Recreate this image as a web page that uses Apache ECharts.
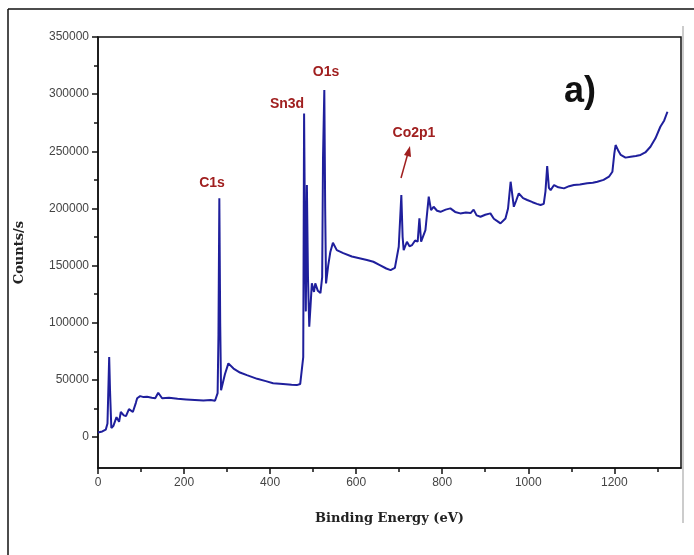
<!DOCTYPE html>
<html>
<head>
<meta charset="utf-8">
<script src="https://cdn.jsdelivr.net/npm/echarts@6/dist/echarts.min.js"></script>
<style>
  html, body { margin: 0; padding: 0; background: #fff; }
  #chart { width: 694px; height: 555px; }
</style>
</head>
<body>
<div id="chart"></div>
<script>
// XPS survey spectrum, binding energy (eV) vs counts/s
const energy = [
  0, 10, 18, 22, 26, 28, 31, 36, 43, 49, 53, 60, 65, 72, 81, 88, 91, 98, 106, 114,
  125, 133, 140, 149, 165, 185, 205, 225, 245, 262, 272, 278, 280, 282, 284, 286, 290, 295, 303, 315,
  330, 346, 370, 390, 407, 430, 450, 462, 470, 474, 477, 479, 481, 483, 485.5, 488, 491, 494, 497, 502,
  505, 511, 517, 521, 523, 526, 528, 530, 535, 540, 546, 555, 570, 590, 610, 625, 640, 655, 670, 680,
  690, 699, 705, 708, 710.5, 718, 724, 730, 737, 743, 747, 751, 756, 761, 768.7, 774, 780, 788, 796, 808,
  819, 830, 842, 855, 866, 873, 880, 889, 900, 912, 920, 928, 935.5, 947, 953, 959, 966.5, 972, 978, 988,
  997.6, 1010, 1020, 1028.6, 1036, 1040, 1044, 1048, 1052, 1060, 1070, 1083, 1095, 1106, 1120, 1137, 1150, 1160.6, 1175, 1187.6,
  1195.5, 1200, 1203, 1210, 1215, 1226, 1238, 1250, 1261, 1272, 1284, 1295.6, 1307, 1316, 1323.5
];
const counts = [
  4000, 5000, 6500, 12000, 70000, 40000, 8000, 10000, 17500, 13400, 22000, 19000, 18400, 24500, 22000, 30000, 34000, 35900, 35000, 35300,
  34500, 34100, 38800, 34000, 34500, 33500, 33000, 32500, 32000, 32500, 31800, 38500, 90000, 208900, 100000, 41000, 40000, 55000, 64500, 60000,
  56500, 54200, 51000, 49000, 47200, 46500, 45800, 45500, 46500, 48000, 70000, 283000, 180000, 110000, 220500, 140000, 96500, 115000, 134500, 127000,
  134500, 128000, 126000, 140000, 245000, 303600, 200000, 134500, 150000, 162000, 170000, 163600, 161000, 158000, 156300, 155000, 153400, 150500, 147500, 146100,
  148000, 166500, 211750, 175000, 163600, 170900, 167000, 168000, 172000, 171000, 191300, 170900, 176000, 181100, 210300, 198600, 201500, 198000, 197100, 199000,
  200100, 197000, 195700, 196500, 196000, 199000, 194000, 192800, 194500, 195700, 191000, 189000, 187000, 191300, 200000, 223400, 201500, 207000, 213200, 209000,
  207400, 205500, 204000, 203000, 204000, 215000, 237100, 218000, 216100, 220500, 218500, 217600, 219500, 220500, 221000, 222000, 222500, 223400, 225000, 227800,
  232100, 248000, 255500, 250000, 246800, 244500, 245300, 246000, 246800, 249000, 254000, 261400, 271500, 277000, 284600
];

const xMajorTicks = [0, 200, 400, 600, 800, 1000, 1200];
const xMinorTicks = [100, 300, 500, 700, 900, 1100, 1300];
const yMajorTicks = [0, 50000, 100000, 150000, 200000, 250000, 300000, 350000];
const yMinorTicks = [25000, 75000, 125000, 175000, 225000, 275000, 325000];

const xRange = [0, 1355];
const yRange = [-27000, 350000];

const peakLabels = [
  { text: "C1s", x: 212, y: 183 },
  { text: "Sn3d", x: 287, y: 104 },
  { text: "O1s", x: 326, y: 72 },
  { text: "Co2p1", x: 414, y: 133 }
];

const chart = echarts.init(document.getElementById("chart"));

const tickLabelStyle = {
  color: "#444", fontSize: 12, fontFamily: "Liberation Sans, Arial, sans-serif",
  formatter: (v) => String(v)
};
const axisLineStyle = { color: "#111", width: 1.5 };

const option = {
  backgroundColor: "#fff",
  animation: false,
  grid: {
    left: 98, right: 13, top: 37, bottom: 87,
    show: true, borderColor: "#111", borderWidth: 1.5, backgroundColor: "transparent"
  },
  xAxis: [
    {
      type: "value", min: xRange[0], max: xRange[1], position: "bottom",
      axisLine: { show: true, onZero: false, lineStyle: axisLineStyle },
      axisTick: { show: true, inside: false, length: 6, lineStyle: axisLineStyle, customValues: xMajorTicks },
      axisLabel: { ...tickLabelStyle, margin: 9, customValues: xMajorTicks },
      splitLine: { show: false },
      name: "Binding Energy (eV)", nameLocation: "middle", nameGap: 44,
      nameTextStyle: { color: "#222", fontSize: 13, fontWeight: "bold", fontFamily: "DejaVu Serif, serif" }
    },
    {
      type: "value", min: xRange[0], max: xRange[1], position: "bottom",
      axisLine: { show: false, onZero: false },
      axisTick: { show: true, inside: false, length: 4, lineStyle: axisLineStyle, customValues: xMinorTicks },
      axisLabel: { show: false },
      splitLine: { show: false }
    }
  ],
  yAxis: [
    {
      type: "value", min: yRange[0], max: yRange[1], position: "left",
      axisLine: { show: true, onZero: false, lineStyle: axisLineStyle },
      axisTick: { show: true, inside: false, length: 6, lineStyle: axisLineStyle, customValues: yMajorTicks },
      axisLabel: { ...tickLabelStyle, margin: 9, customValues: yMajorTicks },
      splitLine: { show: false },
      name: "Counts/s", nameLocation: "middle", nameGap: 72,
      nameTextStyle: { color: "#222", fontSize: 13, fontWeight: "bold", fontFamily: "DejaVu Serif, serif" }
    },
    {
      type: "value", min: yRange[0], max: yRange[1], position: "left",
      axisLine: { show: false, onZero: false },
      axisTick: { show: true, inside: false, length: 4, lineStyle: axisLineStyle, customValues: yMinorTicks },
      axisLabel: { show: false },
      splitLine: { show: false }
    }
  ],
  series: [
    {
      type: "line",
      xAxisIndex: 0,
      yAxisIndex: 0,
      data: energy.map((e, i) => [e, counts[i]]),
      symbol: "none",
      color: "#1f1f9c",
      lineStyle: { width: 2, color: "#1f1f9c" }
    }
  ],
  graphic: [
    // outer figure frame
    { type: "line", shape: { x1: 8, y1: 9, x2: 694, y2: 9 }, style: { stroke: "#111", lineWidth: 1.5 } },
    { type: "line", shape: { x1: 8, y1: 9, x2: 8, y2: 555 }, style: { stroke: "#111", lineWidth: 1.5 } },
    { type: "line", shape: { x1: 683, y1: 26, x2: 683, y2: 523 }, style: { stroke: "#bbb", lineWidth: 1.5 } },
    ...peakLabels.map((p) => ({
      type: "text", x: p.x, y: p.y,
      style: {
        text: p.text, fill: "#a01f1f", fontSize: 14, fontWeight: "bold",
        fontFamily: "Liberation Sans, Arial, sans-serif", align: "center", verticalAlign: "middle"
      }
    })),
    // arrow to Co2p1
    { type: "line", shape: { x1: 401, y1: 178, x2: 408, y2: 153 }, style: { stroke: "#a01f1f", lineWidth: 1.5 } },
    { type: "polygon", shape: { points: [[410, 146], [404, 155], [411, 157]] }, style: { fill: "#a01f1f" } },
    {
      type: "text", x: 580, y: 92,
      style: {
        text: "a)", fill: "#111", fontSize: 36, fontWeight: "bold",
        fontFamily: "Liberation Sans, Arial, sans-serif", align: "center", verticalAlign: "middle"
      }
    }
  ]
};

chart.setOption(option);
</script>
</body>
</html>
